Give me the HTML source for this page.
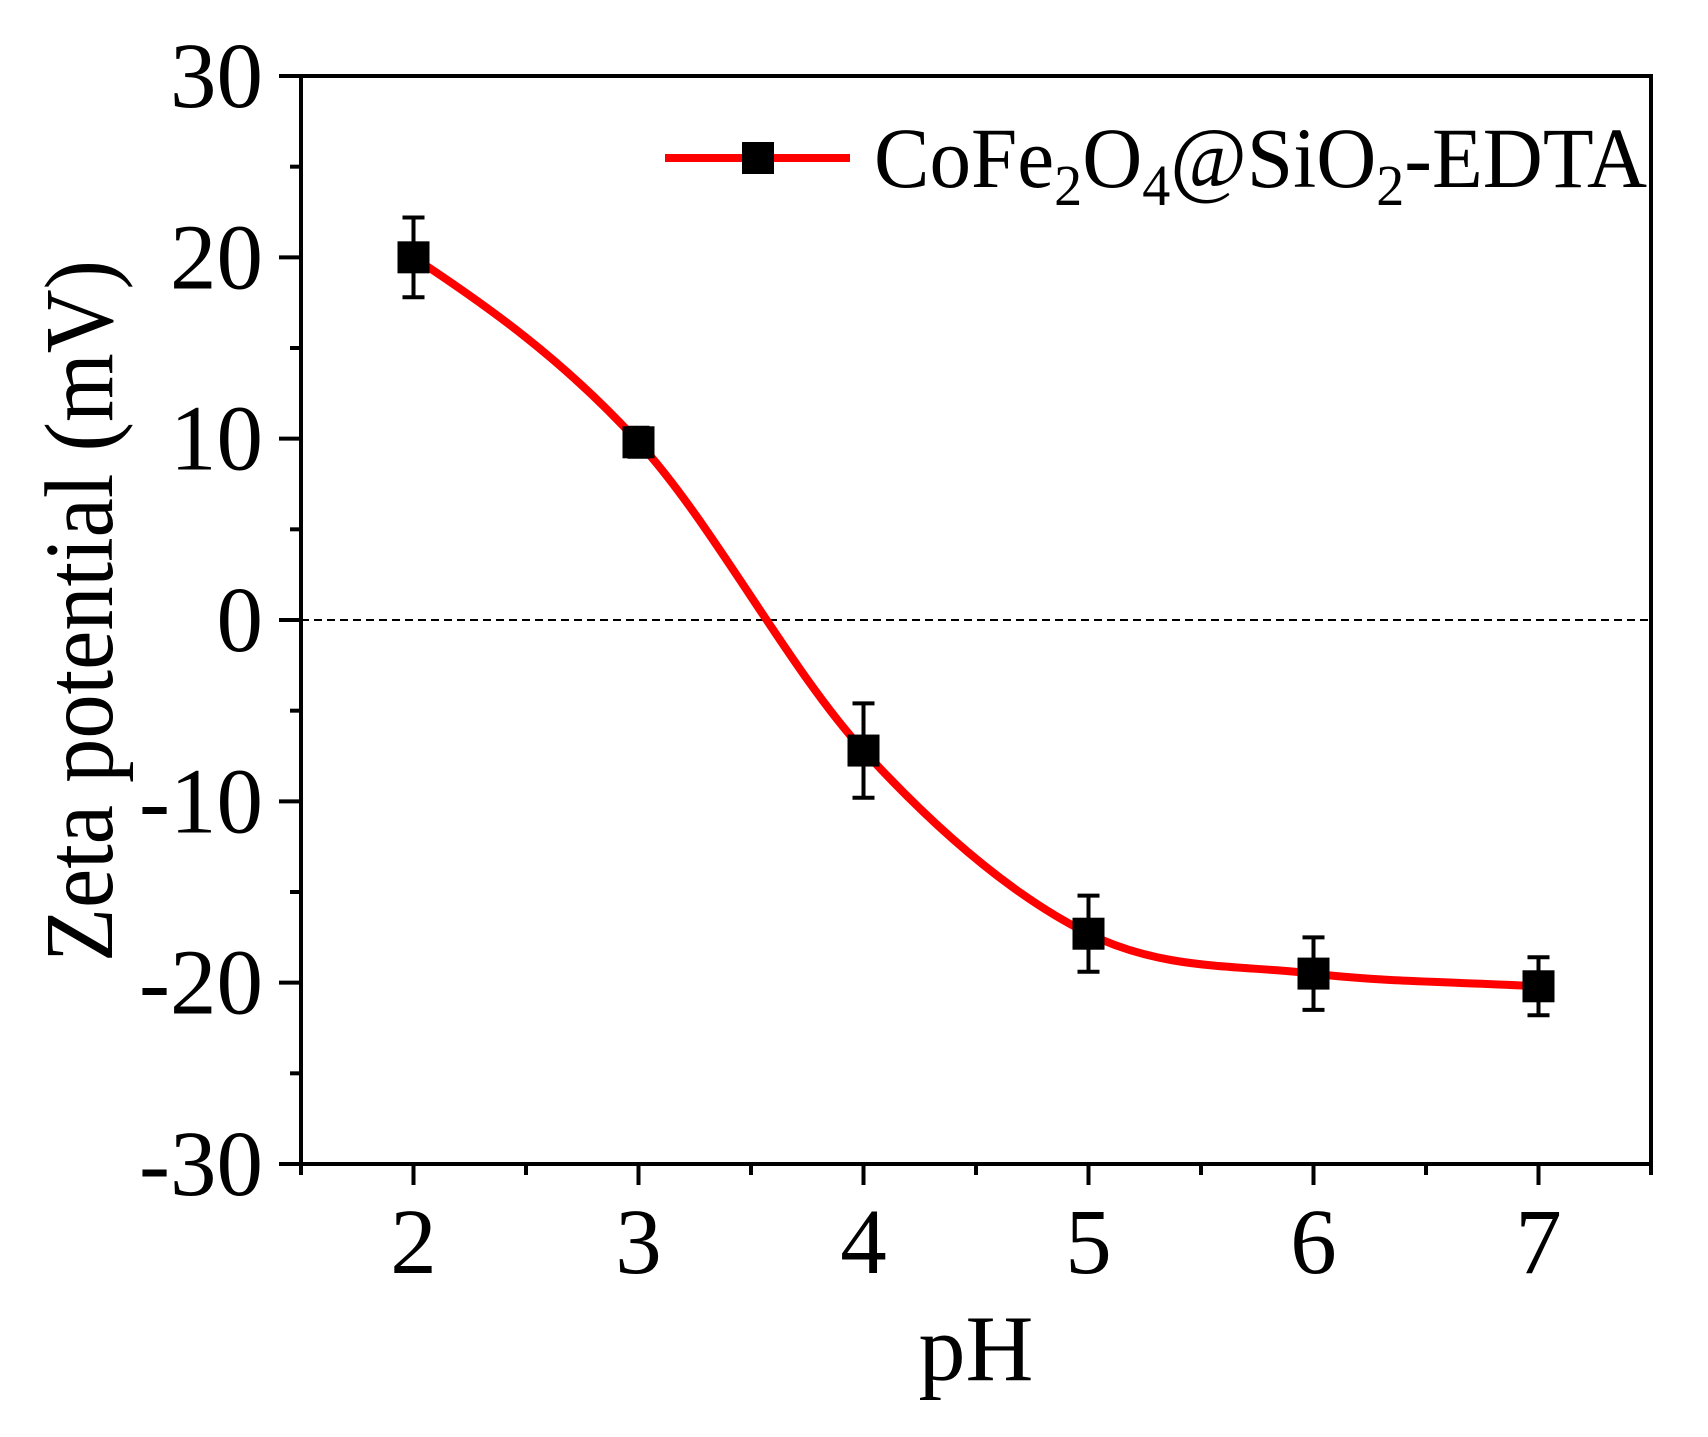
<!DOCTYPE html>
<html><head><meta charset="utf-8"><style>
html,body{margin:0;padding:0;background:#fff;}
svg, svg text{font-family:"Liberation Serif","Times New Roman",Times,"Nimbus Roman","Nimbus Roman No9 L","DejaVu Serif",serif;}
</style></head><body>
<svg id="chart" width="1708" height="1432" viewBox="0 0 1708 1432" xmlns="http://www.w3.org/2000/svg" font-family="Liberation Serif, Times New Roman, serif">
<g id="grid"></g>
<g id="axes"></g>
<g id="series"></g>
<g>
  <line x1="665" y1="158" x2="850" y2="158" stroke="#ff0000" stroke-width="8"/>
  <rect x="742" y="142" width="32" height="32" fill="#000"/>
  <text x="874" y="187" font-size="86" textLength="773" lengthAdjust="spacingAndGlyphs">CoFe<tspan font-size="58" dy="18">2</tspan><tspan dy="-18">O</tspan><tspan font-size="58" dy="18">4</tspan><tspan dy="-18">@SiO</tspan><tspan font-size="58" dy="18">2</tspan><tspan dy="-18">-EDTA</tspan></text>
</g>
<text transform="translate(112,611) rotate(-90)" text-anchor="middle" font-size="97" textLength="702" lengthAdjust="spacingAndGlyphs">Zeta potential (mV)</text>
<text x="976" y="1380" text-anchor="middle" font-size="94">pH</text>
</svg>
<script>
const categories = [2, 3, 4, 5, 6, 7];
const zetaValues = [20, 9.8, -7.2, -17.3, -19.5, -20.2];
const errorValues = [2.2, 0.8, 2.6, 2.1, 2.0, 1.6];
const xTicks = [2, 3, 4, 5, 6, 7];
const yTicks = [-30, -20, -10, 0, 10, 20, 30];
const yTickLabels = ["-30", "-20", "-10", "0", "10", "20", "30"];

const L=301, R=1651, T=76, B=1164;
const xMin=1.5, xMax=7.5, yMin=-30, yMax=30;
const NS="http://www.w3.org/2000/svg";
function xs(v){return L+(v-xMin)/(xMax-xMin)*(R-L);}
function ys(v){return B-(v-yMin)/(yMax-yMin)*(B-T);}
function mk(tag,attrs,parent){const e=document.createElementNS(NS,tag);for(const k in attrs)e.setAttribute(k,attrs[k]);parent.appendChild(e);return e;}

const axes=document.getElementById('axes');
const grid=document.getElementById('grid');
const series=document.getElementById('series');

let zl=mk('line',{x1:L,x2:R,y1:ys(0),y2:ys(0),stroke:'#000','stroke-width':2,'stroke-dasharray':'8,5'},grid);



let frame=mk('rect',{x:L,y:T,width:R-L,height:B-T,fill:'none',stroke:'#000','stroke-width':4},axes);



yTicks.forEach((v,i)=>{
  let t=mk('line',{x1:L-22,x2:L,y1:ys(v),y2:ys(v),stroke:'#000','stroke-width':4},axes);
  
  
  let lb=mk('text',{x:263,y:ys(v)+31,'text-anchor':'end','font-size':93},axes);
  lb.textContent=yTickLabels[i];
  
  
  if(i<yTicks.length-1){
    let m=mk('line',{x1:L-11,x2:L,y1:ys(v+5),y2:ys(v+5),stroke:'#000','stroke-width':4},axes);
    
    
  }
});
xTicks.forEach((v,i)=>{
  let t=mk('line',{x1:xs(v),x2:xs(v),y1:B,y2:B+21,stroke:'#000','stroke-width':4},axes);
  
  
  let lb=mk('text',{x:xs(v),y:1273,'text-anchor':'middle','font-size':93},axes);
  lb.textContent=String(v);
  
  
});
[1.5,2.5,3.5,4.5,5.5,6.5,7.5].forEach(v=>{
  let m=mk('line',{x1:xs(v),x2:xs(v),y1:B,y2:B+11,stroke:'#000','stroke-width':4},axes);
  
  
});

const px=categories.map(xs), py=zetaValues.map(ys);
const n=px.length, d=[], m=[];
for(let i=0;i<n-1;i++)d.push((py[i+1]-py[i])/(px[i+1]-px[i]));
m[0]=d[0]*0.8;m[n-1]=d[n-2];
for(let i=1;i<n-1;i++)m[i]=(d[i-1]*d[i]<=0)?0:(d[i-1]+d[i])/2;
let path='M'+px[0]+','+py[0];
for(let i=0;i<n-1;i++){const h=px[i+1]-px[i];
  path+=' C'+(px[i]+h/3)+','+(py[i]+m[i]*h/3)+' '+(px[i+1]-h/3)+','+(py[i+1]-m[i+1]*h/3)+' '+px[i+1]+','+py[i+1];}
let curve=mk('path',{d:path,fill:'none',stroke:'#ff0000','stroke-width':8},series);



categories.forEach((c,i)=>{
  const x=xs(c), y=ys(zetaValues[i]), e=errorValues[i];
  const y1=ys(zetaValues[i]+e), y2=ys(zetaValues[i]-e);
  let g=mk('g',{},series);
  
  
  mk('line',{x1:x,x2:x,y1:y1,y2:y2,stroke:'#000','stroke-width':4},g);
  mk('line',{x1:x-11,x2:x+11,y1:y1,y2:y1,stroke:'#000','stroke-width':4},g);
  mk('line',{x1:x-11,x2:x+11,y1:y2,y2:y2,stroke:'#000','stroke-width':4},g);
  let p=mk('rect',{x:x-16,y:y-16,width:32,height:32,fill:'#000'},series);
  
  
});
</script>
</body></html>
